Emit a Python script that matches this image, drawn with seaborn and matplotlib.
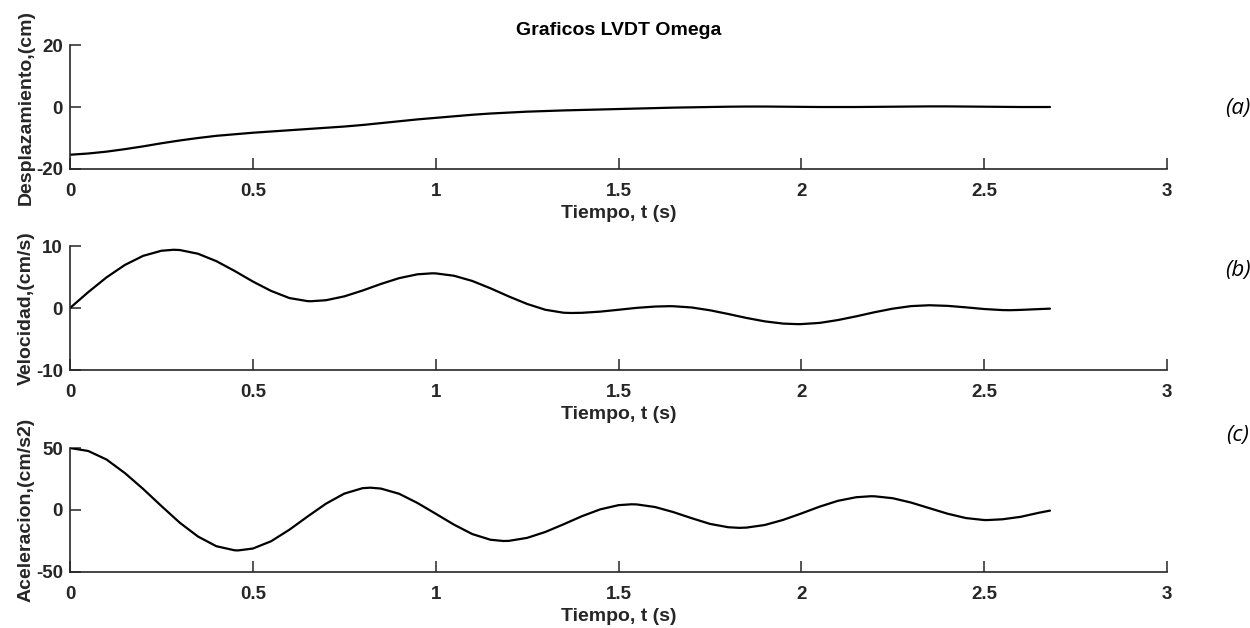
import matplotlib
matplotlib.use("Agg")
import matplotlib.pyplot as plt
import seaborn as sns
import pandas as pd

# Displacement samples: time (s) and LVDT displacement (cm)
t_desp = [0.00, 0.05, 0.10, 0.15, 0.20, 0.25, 0.30, 0.35, 0.40, 0.45,
          0.50, 0.55, 0.60, 0.65, 0.70, 0.75, 0.80, 0.85, 0.90, 0.95,
          1.00, 1.05, 1.10, 1.15, 1.20, 1.25, 1.30, 1.35, 1.40, 1.45,
          1.50, 1.55, 1.60, 1.65, 1.70, 1.75, 1.80, 1.85, 1.90, 1.95,
          2.00, 2.05, 2.10, 2.15, 2.20, 2.25, 2.30, 2.35, 2.40, 2.45,
          2.50, 2.55, 2.60, 2.65, 2.68]
desplazamiento = [-15.4, -15.0, -14.4, -13.6, -12.7, -11.7, -10.8, -10.0, -9.3, -8.8,
                  -8.3, -7.9, -7.5, -7.1, -6.7, -6.3, -5.8, -5.2, -4.6, -4.0,
                  -3.5, -3.0, -2.5, -2.1, -1.8, -1.5, -1.3, -1.1, -0.95, -0.8,
                  -0.65, -0.5, -0.35, -0.2, -0.1, 0.0, 0.1, 0.15, 0.15, 0.1,
                  0.05, 0.0, 0.0, 0.0, 0.05, 0.1, 0.15, 0.2, 0.2, 0.15,
                  0.1, 0.05, 0.0, 0.0, 0.0]

# Velocity samples: time (s) and velocity (cm/s)
t_vel = [0.00, 0.05, 0.10, 0.15, 0.20, 0.25, 0.283, 0.30, 0.35, 0.40,
         0.45, 0.50, 0.55, 0.60, 0.65, 0.66, 0.70, 0.75, 0.80, 0.85,
         0.90, 0.95, 0.99, 1.00, 1.05, 1.10, 1.15, 1.20, 1.25, 1.30,
         1.35, 1.37, 1.40, 1.45, 1.50, 1.55, 1.60, 1.64, 1.65, 1.70,
         1.75, 1.80, 1.85, 1.90, 1.95, 1.99, 2.00, 2.05, 2.10, 2.15,
         2.20, 2.25, 2.30, 2.35, 2.40, 2.45, 2.50, 2.55, 2.57, 2.60,
         2.65, 2.68]
velocidad = [0.0, 2.57, 4.95, 6.95, 8.42, 9.24, 9.40, 9.36, 8.76, 7.57,
             5.99, 4.28, 2.76, 1.61, 1.11, 1.10, 1.26, 1.88, 2.82, 3.88,
             4.82, 5.44, 5.60, 5.59, 5.21, 4.37, 3.18, 1.87, 0.66, -0.28,
             -0.76, -0.80, -0.77, -0.58, -0.28, 0.03, 0.24, 0.30, 0.29, 0.09,
             -0.36, -0.96, -1.60, -2.15, -2.51, -2.60, -2.59, -2.40, -1.94, -1.34,
             -0.68, -0.10, 0.31, 0.45, 0.35, 0.11, -0.16, -0.33, -0.35, -0.30,
             -0.17, -0.10]

# Acceleration samples: time (s) and acceleration (cm/s2)
t_acel = [0.00, 0.05, 0.10, 0.15, 0.20, 0.25, 0.30, 0.35, 0.40, 0.45,
          0.46, 0.50, 0.55, 0.60, 0.65, 0.70, 0.75, 0.80, 0.821, 0.85,
          0.90, 0.95, 1.00, 1.05, 1.10, 1.15, 1.185, 1.20, 1.25, 1.30,
          1.35, 1.40, 1.45, 1.50, 1.535, 1.55, 1.60, 1.65, 1.70, 1.75,
          1.80, 1.83, 1.85, 1.90, 1.95, 2.00, 2.05, 2.10, 2.15, 2.19,
          2.20, 2.25, 2.30, 2.35, 2.40, 2.45, 2.50, 2.51, 2.55, 2.60,
          2.65, 2.68]
aceleracion = [50.0, 47.6, 40.7, 29.8, 17.0, 3.2, -10.2, -21.4, -29.2, -32.5,
               -32.6, -31.1, -25.2, -15.9, -5.2, 5.1, 13.2, 17.6, 18.0, 17.3,
               13.1, 5.7, -3.0, -11.8, -19.4, -24.0, -25.0, -24.9, -22.5, -17.7,
               -11.5, -5.0, 0.5, 3.9, 4.6, 4.5, 2.4, -1.7, -6.6, -11.2,
               -13.9, -14.4, -14.2, -12.1, -8.0, -2.8, 2.7, 7.4, 10.3, 11.1,
               11.06, 9.5, 6.0, 1.5, -3.0, -6.5, -8.1, -8.1, -7.5, -5.5,
               -2.2, -0.5]

x_ticks = [0, 0.5, 1, 1.5, 2, 2.5, 3]
x_tick_labels = ["0", "0.5", "1", "1.5", "2", "2.5", "3"]

paneles = [
    ("Desplazamiento,(cm)", t_desp, desplazamiento, [-20, 0, 20], ["-20", "0", "20"], "(a)"),
    ("Velocidad,(cm/s)", t_vel, velocidad, [-10, 0, 10], ["-10", "0", "10"], "(b)"),
    ("Aceleracion,(cm/s2)", t_acel, aceleracion, [-50, 0, 50], ["-50", "0", "50"], "(c)"),
]

sns.set_theme(style="ticks")
plt.rcParams["font.family"] = ["Liberation Sans", "DejaVu Sans"]
plt.rcParams["font.weight"] = "bold"

axis_color = "#262626"
tick_fs = 13.5
label_fs = 14

fig = plt.figure(figsize=(12.5, 6.28), dpi=100)
left, width, height = 0.056, 0.8776, 0.1974
bottoms = [0.7309, 0.4108, 0.0892]
label_y = [0.8280, 0.5700, 0.3070]

for (ylabel, tt, serie, yt, ytl, tag), b, ly in zip(paneles, bottoms, label_y):
    ax = fig.add_axes([left, b, width, height])
    df = pd.DataFrame({"t": tt, "y": serie})
    sns.lineplot(data=df, x="t", y="y", ax=ax, color="black", linewidth=1.6,
                 sort=False, estimator=None)
    ax.set_xlim(0, 3)
    ax.set_ylim(yt[0], yt[-1])
    ax.set_xticks(x_ticks)
    ax.set_xticklabels(x_tick_labels, fontsize=tick_fs, fontweight="bold", color=axis_color)
    ax.set_yticks(yt)
    ax.set_yticklabels(ytl, fontsize=tick_fs, fontweight="bold", color=axis_color)
    ax.tick_params(axis="both", direction="in", length=8, width=1.1, color=axis_color)
    ax.tick_params(axis="x", pad=10)
    ax.tick_params(axis="y", pad=5)
    for side in ("top", "right"):
        ax.spines[side].set_visible(False)
    for side in ("left", "bottom"):
        ax.spines[side].set_color(axis_color)
        ax.spines[side].set_linewidth(1.2)
    ax.set_xlabel("Tiempo, t (s)", fontsize=label_fs, fontweight="bold", color=axis_color, labelpad=4)
    ax.set_ylabel(ylabel, fontsize=label_fs, fontweight="bold", color=axis_color, labelpad=1)
    ax.set_facecolor("white")
    fig.text(0.990, ly, tag, fontsize=16, style="italic", fontweight="normal",
             family=["Open Sans", "DejaVu Sans"], ha="center", va="center", color="black")
    if tag == "(a)":
        ax.set_title("Graficos LVDT Omega", fontsize=label_fs, fontweight="bold", color="black", pad=7)

fig.savefig("out.png", dpi=100, facecolor="white")
